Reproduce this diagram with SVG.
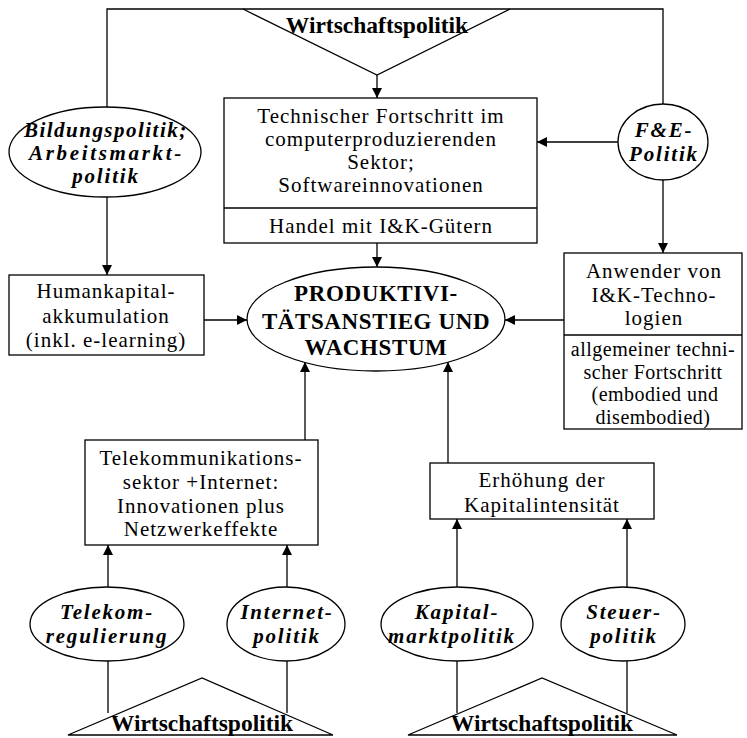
<svg xmlns="http://www.w3.org/2000/svg" width="747" height="738" viewBox="0 0 747 738">
<style>
.s{fill:none;stroke:#000;stroke-width:1.3}
.n{fill:#fff;stroke:#000;stroke-width:1.3}
.t{font-family:"Liberation Serif",serif;font-size:21px;text-anchor:middle;letter-spacing:1px}
.u{font-family:"Liberation Serif",serif;font-size:20px;text-anchor:middle;letter-spacing:0.5px}
.e{font-family:"Liberation Serif",serif;font-size:21px;font-weight:bold;font-style:italic;text-anchor:middle;letter-spacing:1.8px}
.w{font-family:"Liberation Serif",serif;font-size:23.5px;font-weight:bold;text-anchor:middle}
.c{font-family:"Liberation Serif",serif;font-size:23px;font-weight:bold;text-anchor:middle;letter-spacing:0.6px}
</style>
<defs>
<marker id="a" viewBox="0 0 10 10" refX="10" refY="5" markerWidth="10" markerHeight="10" markerUnits="userSpaceOnUse" orient="auto">
<path d="M0,0 L10,5 L0,10 z" fill="#000"/>
</marker>
</defs>
<rect width="747" height="738" fill="#fff"/>
<g id="connectors">
<path class="s" d="M107,107 V9 H663 V104"/>
<path class="s" d="M377,75 V98" marker-end="url(#a)"/>
<path class="s" d="M618,142 H537" marker-end="url(#a)"/>
<path class="s" d="M663,180 V253" marker-end="url(#a)"/>
<path class="s" d="M107,197 V275" marker-end="url(#a)"/>
<path class="s" d="M204,320 H247" marker-end="url(#a)"/>
<path class="s" d="M377,243 V267" marker-end="url(#a)"/>
<path class="s" d="M564,320 H505" marker-end="url(#a)"/>
<path class="s" d="M305,440 V362" marker-end="url(#a)"/>
<path class="s" d="M448,463 V362" marker-end="url(#a)"/>
<path class="s" d="M108,587 V545" marker-end="url(#a)"/>
<path class="s" d="M287,587 V545" marker-end="url(#a)"/>
<path class="s" d="M457,587 V519" marker-end="url(#a)"/>
<path class="s" d="M627,587 V519" marker-end="url(#a)"/>
<path class="s" d="M108,661 V713"/>
<path class="s" d="M287,661 V713"/>
<path class="s" d="M457,661 V713"/>
<path class="s" d="M627,661 V713"/>
</g>
<g id="wp-top">
<path class="s" d="M243,9 L377,75 L510,9"/>
<text class="w" x="377" y="33">Wirtschaftspolitik</text>
</g>
<g id="tech">
<rect class="n" x="224" y="98" width="313" height="145"/>
<line class="s" x1="224" y1="208" x2="537" y2="208"/>
<text class="t" x="381" y="123">Technischer Fortschritt im</text>
<text class="t" x="381" y="146">computerproduzierenden</text>
<text class="t" x="381" y="169">Sektor;</text>
<text class="t" x="381" y="192">Softwareinnovationen</text>
<text class="t" x="381" y="233">Handel mit I&amp;K-Gütern</text>
</g>
<g id="bildung">
<ellipse class="n" cx="105" cy="152" rx="96" ry="45"/>
<text class="e" x="106" y="137" textLength="164" lengthAdjust="spacing">Bildungspolitik;</text>
<text class="e" x="106" y="160" textLength="154" lengthAdjust="spacing">Arbeitsmarkt-</text>
<text class="e" x="106" y="183">politik</text>
</g>
<g id="fe">
<ellipse class="n" cx="663" cy="142" rx="45" ry="38"/>
<text class="e" x="664" y="137">F&amp;E-</text>
<text class="e" x="664" y="161">Politik</text>
</g>
<g id="human">
<rect class="n" x="9" y="275" width="195" height="80"/>
<text class="t" x="106" y="298">Humankapital-</text>
<text class="t" x="106" y="323">akkumulation</text>
<text class="t" x="106" y="347">(inkl. e-learning)</text>
</g>
<g id="center">
<ellipse class="n" cx="376" cy="319" rx="129" ry="52"/>
<text class="c" x="376" y="301">PRODUKTIVI-</text>
<text class="c" x="376" y="329">TÄTSANSTIEG UND</text>
<text class="c" x="376" y="355">WACHSTUM</text>
</g>
<g id="anwender">
<rect class="n" x="564" y="253" width="178" height="176"/>
<line class="s" x1="564" y1="335" x2="742" y2="335"/>
<text class="t" x="654" y="278">Anwender von</text>
<text class="t" x="654" y="302">I&amp;K-Techno-</text>
<text class="t" x="654" y="325">logien</text>
<text class="u" x="653" y="356">allgemeiner techni-</text>
<text class="u" x="653" y="378.5">scher Fortschritt</text>
<text class="u" x="655" y="401">(embodied und</text>
<text class="u" x="653" y="423.5">disembodied)</text>
</g>
<g id="telekom-box">
<rect class="n" x="85" y="440" width="233" height="105"/>
<text class="t" x="201" y="465">Telekommunikations-</text>
<text class="t" x="201" y="489">sektor +Internet:</text>
<text class="t" x="201" y="513">Innovationen plus</text>
<text class="t" x="201" y="536">Netzwerkeffekte</text>
</g>
<g id="kapital-box">
<rect class="n" x="430" y="463" width="224" height="56"/>
<text class="t" x="542" y="487">Erhöhung der</text>
<text class="t" x="542" y="512">Kapitalintensität</text>
</g>
<g id="telekom">
<ellipse class="n" cx="107" cy="624" rx="77" ry="37"/>
<text class="e" x="107" y="619">Telekom-</text>
<text class="e" x="107" y="643">regulierung</text>
</g>
<g id="internet">
<ellipse class="n" cx="286" cy="624" rx="59" ry="37"/>
<text class="e" x="287" y="619">Internet-</text>
<text class="e" x="287" y="643">politik</text>
</g>
<g id="kapitalmarkt">
<ellipse class="n" cx="457" cy="624" rx="76" ry="37"/>
<text class="e" x="457" y="619">Kapital-</text>
<text class="e" x="452" y="643">marktpolitik</text>
</g>
<g id="steuer">
<ellipse class="n" cx="623" cy="624" rx="62" ry="37"/>
<text class="e" x="624" y="619">Steuer-</text>
<text class="e" x="624" y="643">politik</text>
</g>
<g id="wp-left">
<path class="n" d="M68,735 L202,678 L333,735 Z"/>
<text class="w" x="202" y="731">Wirtschaftspolitik</text>
</g>
<g id="wp-right">
<path class="n" d="M408,735 L542,678 L677,735 Z"/>
<text class="w" x="542" y="731">Wirtschaftspolitik</text>
</g>
</svg>
